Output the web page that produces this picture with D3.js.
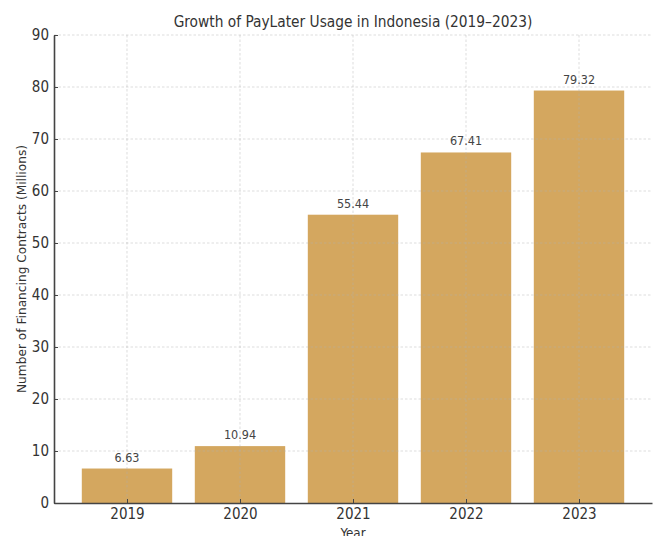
<!DOCTYPE html>
<html>
<head>
<meta charset="utf-8">
<script src="https://cdn.jsdelivr.net/npm/d3@7"></script>
<style>
  body { margin: 0; background: #fff; }
  svg { display: block; font-family: "DejaVu Sans Condensed", "DejaVu Sans", sans-serif; }
</style>
</head>
<body>
<div id="chart"></div>
<script>
// values
const years = ["2019", "2020", "2021", "2022", "2023"];
const contracts = [6.63, 10.94, 55.44, 67.41, 79.32];
const yTicks = [0, 10, 20, 30, 40, 50, 60, 70, 80, 90];

const width = 658, height = 536;
const margin = { top: 35, right: 6, bottom: 33, left: 54 };

const svg = d3.select("#chart")
  .append("svg")
  .attr("width", width)
  .attr("height", height);

const innerW = width - margin.left - margin.right;
const innerH = height - margin.top - margin.bottom;

// matplotlib-like x limits: bars of width 0.8 with a little padding
const pad = 0.646;
const x = d3.scaleLinear()
  .domain([-pad, years.length - 1 + pad])
  .range([margin.left, margin.left + innerW]);
const barW = x(0.4) - x(-0.4);

const y = d3.scaleLinear()
  .domain([0, 90])
  .range([margin.top + innerH, margin.top]);

// ---------- bars ----------
svg.append("g")
  .selectAll("rect")
  .data(contracts)
  .join("rect")
  .attr("x", (d, i) => x(i) - barW / 2)
  .attr("y", d => y(d))
  .attr("width", barW)
  .attr("height", d => y(0) - y(d))
  .attr("fill", "#d4a75f");

// ---------- grid (drawn over bars, faint) ----------
const grid = svg.append("g")
  .attr("stroke", "#b0b0b0")
  .attr("stroke-opacity", 0.55)
  .attr("stroke-width", 0.8)
  .attr("stroke-dasharray", "2.5,2");

grid.selectAll(".h")
  .data(yTicks.slice(1))
  .join("line")
  .attr("x1", margin.left)
  .attr("x2", margin.left + innerW)
  .attr("y1", d => y(d))
  .attr("y2", d => y(d));

grid.selectAll(".v")
  .data(years)
  .join("line")
  .attr("x1", (d, i) => x(i))
  .attr("x2", (d, i) => x(i))
  .attr("y1", margin.top)
  .attr("y2", y(0));

// ---------- value labels ----------
svg.append("g")
  .selectAll("text")
  .data(contracts)
  .join("text")
  .attr("x", (d, i) => x(i))
  .attr("y", d => y(d) - 7)
  .attr("text-anchor", "middle")
  .attr("font-size", "12.5px")
  .attr("fill", "#444")
  .text(d => d.toFixed(2));

// ---------- axes ----------
const xAxis = d3.axisBottom(x)
  .tickValues(d3.range(years.length))
  .tickFormat(i => years[i])
  .tickSizeInner(-4)
  .tickSizeOuter(0)
  .tickPadding(5);

const yAxis = d3.axisLeft(y)
  .tickValues(yTicks)
  .tickSizeInner(-4)
  .tickSizeOuter(0)
  .tickPadding(5);

const gx = svg.append("g")
  .attr("transform", `translate(0,${y(0)})`)
  .call(xAxis);

const gy = svg.append("g")
  .attr("transform", `translate(${margin.left},0)`)
  .call(yAxis);

[gx, gy].forEach(g => {
  g.select(".domain").attr("stroke", "#444").attr("stroke-width", 1.6);
  g.selectAll(".tick line").attr("stroke", "#444").attr("stroke-width", 1);
  g.selectAll(".tick text")
    .attr("font-size", "15px")
    .attr("fill", "#333")
    .attr("font-family", "DejaVu Sans Condensed, DejaVu Sans, sans-serif");
});

// ---------- title and axis labels ----------
svg.append("text")
  .attr("x", x((years.length - 1) / 2))
  .attr("y", 27)
  .attr("text-anchor", "middle")
  .attr("font-size", "15.3px")
  .attr("fill", "#333")
  .text("Growth of PayLater Usage in Indonesia (2019–2023)");

svg.append("text")
  .attr("transform", `translate(26,${y(45)}) rotate(-90)`)
  .attr("text-anchor", "middle")
  .attr("font-family", "DejaVu Sans, sans-serif")
  .attr("font-size", "12.2px")
  .attr("fill", "#333")
  .text("Number of Financing Contracts (Millions)");

svg.append("text")
  .attr("x", x((years.length - 1) / 2))
  .attr("y", 538)
  .attr("text-anchor", "middle")
  .attr("font-size", "13.3px")
  .attr("fill", "#333")
  .text("Year");
</script>
</body>
</html>
